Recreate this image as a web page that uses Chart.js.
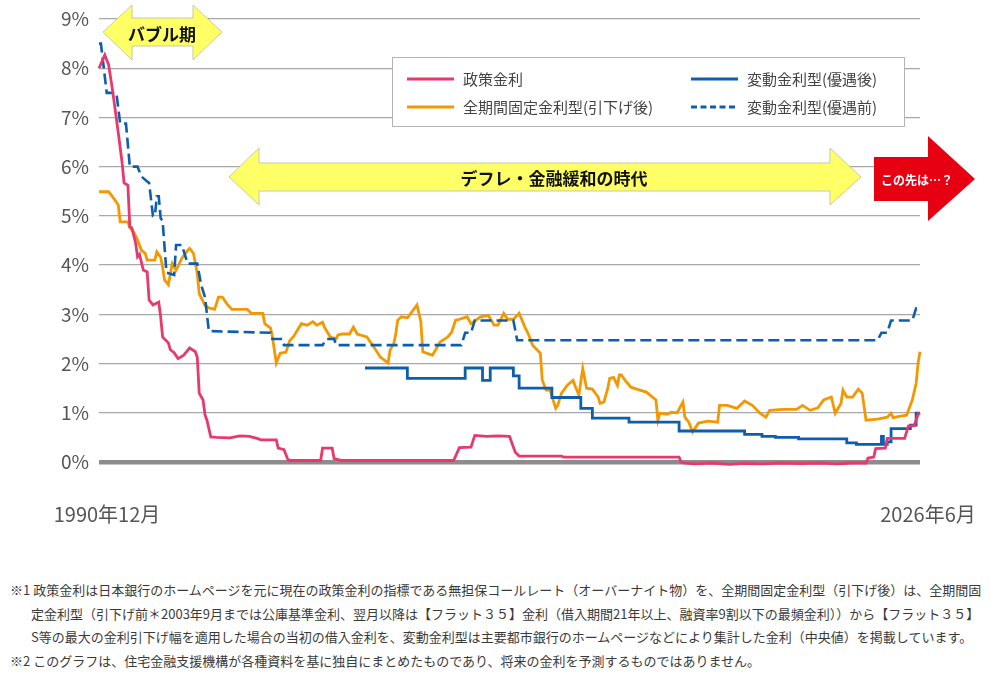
<!DOCTYPE html>
<html lang="ja">
<head>
<meta charset="utf-8">
<script src="https://cdn.jsdelivr.net/npm/chart.js@4.4.1/dist/chart.umd.min.js"></script>
<style>
html,body{margin:0;padding:0;background:#fff;}
body{width:991px;height:673px;position:relative;overflow:hidden;font-family:"Noto Sans CJK JP","Noto Sans",sans-serif;}
#c{position:absolute;left:0;top:0;}
#legend{position:absolute;left:392px;top:57px;width:511px;height:68px;border:1px solid #b4b4b4;background:#fff;font-size:15px;color:#444;}
.item{position:absolute;height:20px;line-height:20px;white-space:nowrap;}
.item svg{position:absolute;left:0;top:8px;}
.item span{position:absolute;left:56px;top:0;}
#arrows{position:absolute;left:0;top:0;pointer-events:none;}
.notes div{position:absolute;white-space:nowrap;font-size:13px;line-height:16px;color:#3a3a3a;}
</style>
</head>
<body>
<canvas id="c" width="991" height="540"></canvas>

<svg id="arrows" width="991" height="240" xmlns="http://www.w3.org/2000/svg">
  <polygon points="103,32 132,5 132,18 193,18 193,5 222,32 193,60 193,46 132,46 132,60"
           fill="#ffff66" stroke="#c9c9a6" stroke-width="1"/>
  <text x="162" y="33" font-size="17" font-weight="bold" fill="#111" text-anchor="middle" dominant-baseline="central"
        font-family="Noto Sans CJK JP, sans-serif">バブル期</text>
  <polygon points="229,177 259,148 259,163 830,163 830,148 861,177 830,205 830,191 259,191 259,205"
           fill="#ffff66" stroke="#c9c9a6" stroke-width="1"/>
  <text x="554" y="177" font-size="17" font-weight="bold" fill="#111" text-anchor="middle" dominant-baseline="central"
        font-family="Noto Sans CJK JP, sans-serif">デフレ・金融緩和の時代</text>
  <polygon points="874,157 928,157 928,136 975,179 928,221 928,201 874,201" fill="#e60012"/>
  <text x="917" y="179" font-size="12" font-weight="bold" fill="#fff" text-anchor="middle" dominant-baseline="central"
        font-family="Noto Sans CJK JP, sans-serif">この先は…？</text>
</svg>

<div id="legend">
  <div class="item" style="left:14px;top:11px;"><svg width="48" height="4"><line x1="0" y1="2" x2="47" y2="2" stroke="#e8396e" stroke-width="3"/></svg><span>政策金利</span></div>
  <div class="item" style="left:14px;top:39px;"><svg width="48" height="4"><line x1="0" y1="2" x2="47" y2="2" stroke="#f39800" stroke-width="3"/></svg><span>全期間固定金利型(引下げ後)</span></div>
  <div class="item" style="left:298px;top:11px;"><svg width="48" height="4"><line x1="0" y1="2" x2="47" y2="2" stroke="#0d5fae" stroke-width="3"/></svg><span>変動金利型(優遇後)</span></div>
  <div class="item" style="left:298px;top:39px;"><svg width="48" height="4"><line x1="0" y1="2" x2="47" y2="2" stroke="#0d5fae" stroke-width="3" stroke-dasharray="6,3.5"/></svg><span>変動金利型(優遇前)</span></div>
</div>

<div class="notes">
  <div style="left:10px;top:582px;">※1 政策金利は日本銀行のホームページを元に現在の政策金利の指標である無担保コールレート（オーバーナイト物）を、全期間固定金利型（引下げ後）は、全期間固</div>
  <div style="left:31px;top:606px;">定金利型（引下げ前＊2003年9月までは公庫基準金利、翌月以降は【フラット３５】金利（借入期間21年以上、融資率9割以下の最頻金利））から【フラット３５】</div>
  <div style="left:31px;top:629px;">S等の最大の金利引下げ幅を適用した場合の当初の借入金利を、変動金利型は主要都市銀行のホームページなどにより集計した金利（中央値）を掲載しています。</div>
  <div style="left:10px;top:653px;">※2 このグラフは、住宅金融支援機構が各種資料を基に独自にまとめたものであり、将来の金利を予測するものではありません。</div>
</div>

<script>
// ---- data ----
const xStart = '1990-12';
const xEnd = '2026-06';
const xTickLabels = ['1990年12月', '2026年6月'];
const yTickMax = 9;

const policyDates = ['1990-12','1991-03','1991-05','1991-07','1991-10','1991-12','1992-01','1992-03','1992-04','1992-05','1992-07','1992-08','1992-09','1992-11','1993-01','1993-02','1993-04','1993-07','1993-08','1993-09','1993-12','1994-01','1994-03','1994-05','1994-08','1994-11','1995-02','1995-03','1995-04','1995-06','1995-07','1995-08','1995-10','1996-01','1996-08','1997-01','1997-06','1997-10','1997-12','1998-08','1998-09','1998-12','1999-02','1999-03','2000-07','2000-08','2001-01','2001-02','2001-06','2006-04','2006-07','2007-01','2007-03','2007-09','2008-03','2008-09','2008-12','2009-02','2010-12','2011-01','2016-01','2016-02','2016-03','2016-09','2017-06','2018-03','2018-11','2019-08','2020-06','2021-04','2022-02','2022-11','2023-07','2024-02','2024-03','2024-06','2024-07','2024-12','2025-01','2025-10','2025-12','2026-03','2026-05','2026-06'];
const policyValues = [8.0,8.27,8.07,7.56,6.69,6.08,5.67,5.62,4.78,4.76,4.45,4.17,4.22,3.9,3.86,3.29,3.19,3.25,2.95,2.54,2.42,2.28,2.22,2.1,2.17,2.32,2.24,2.13,1.4,1.26,0.96,0.85,0.51,0.5,0.49,0.53,0.52,0.48,0.45,0.45,0.28,0.25,0.05,0.03,0.03,0.28,0.28,0.07,0.03,0.03,0.29,0.3,0.54,0.52,0.53,0.52,0.2,0.12,0.12,0.1,0.1,0.0,-0.02,-0.04,-0.02,-0.05,-0.03,-0.04,-0.02,-0.03,-0.02,-0.04,-0.02,-0.02,0.08,0.1,0.27,0.28,0.48,0.48,0.73,0.74,0.97,1.0];

const fixedDates = ['1990-12','1991-05','1991-07','1991-10','1991-11','1992-03','1992-04','1992-06','1992-08','1992-10','1992-12','1993-01','1993-05','1993-06','1993-08','1993-09','1993-10','1993-12','1994-02','1994-04','1994-07','1994-10','1994-11','1995-01','1995-03','1995-04','1995-07','1995-09','1995-12','1996-02','1996-04','1996-07','1996-09','1997-05','1997-07','1998-01','1998-02','1998-05','1998-06','1998-08','1998-10','1999-01','1999-03','1999-05','1999-07','1999-09','1999-12','2000-03','2000-05','2000-08','2000-09','2000-12','2001-03','2001-04','2001-06','2001-10','2001-12','2002-02','2002-07','2002-10','2003-02','2003-06','2003-07','2003-09','2003-10','2003-11','2004-01','2004-04','2004-05','2004-09','2004-11','2004-12','2005-05','2005-07','2005-09','2006-01','2006-03','2006-05','2006-07','2006-11','2007-01','2007-06','2007-10','2008-01','2008-03','2008-06','2008-08','2008-11','2009-02','2009-05','2009-07','2009-09','2010-01','2010-02','2010-04','2010-06','2010-09','2010-10','2010-12','2011-03','2011-06','2011-07','2011-09','2011-11','2012-01','2012-04','2012-07','2012-08','2012-10','2012-12','2013-01','2013-03','2013-05','2013-06','2013-07','2013-09','2013-12','2014-03','2014-08','2015-01','2015-02','2015-03','2015-07','2015-09','2015-12','2016-03','2016-04','2016-06','2016-08','2016-11','2017-04','2017-09','2017-10','2018-02','2018-07','2018-11','2019-03','2019-07','2019-10','2019-12','2020-07','2021-02','2021-05','2021-09','2022-01','2022-04','2022-08','2022-10','2023-01','2023-02','2023-04','2023-07','2023-10','2023-12','2024-02','2024-08','2025-01','2025-03','2025-04','2025-08','2025-11','2026-02','2026-04','2026-05','2026-06'];
const fixedValues = [5.49,5.49,5.39,5.22,4.88,4.88,4.76,4.67,4.51,4.3,4.24,4.1,4.1,4.27,4.16,3.96,3.7,3.6,4.03,3.9,4.14,4.3,4.34,4.24,3.83,3.42,3.18,3.13,3.1,3.35,3.35,3.18,3.1,3.1,3.02,3.02,2.81,2.72,2.54,2.01,2.21,2.23,2.47,2.55,2.68,2.81,2.78,2.85,2.78,2.84,2.74,2.54,2.5,2.58,2.6,2.6,2.74,2.6,2.54,2.37,2.13,2.01,2.27,2.41,2.61,2.88,2.95,2.93,2.98,3.19,2.85,2.24,2.17,2.3,2.44,2.54,2.64,2.88,2.9,2.95,2.81,2.95,2.98,2.78,2.78,3.02,2.9,2.9,3.02,2.74,2.58,2.37,2.21,1.66,1.46,1.46,1.09,1.15,1.4,1.56,1.66,1.55,1.36,1.9,1.5,1.48,1.32,1.19,1.22,1.5,1.7,1.72,1.56,1.77,1.77,1.66,1.52,1.48,1.42,1.26,0.85,0.99,0.97,1.01,1.0,1.22,0.91,0.81,0.61,0.79,0.83,0.81,1.15,1.15,1.09,1.24,1.15,0.99,0.91,1.05,1.07,1.07,1.15,1.05,1.1,1.26,1.32,0.99,1.19,1.46,1.32,1.32,1.48,1.4,0.85,0.87,0.91,0.99,0.9,0.93,0.95,1.26,1.6,2.01,2.24];

const variableDates = ['2002-06','2004-04','2006-10','2007-07','2007-11','2008-11','2009-02','2010-07','2011-10','2012-04','2013-11','2016-01','2018-11','2019-08','2020-03','2021-03','2023-04','2023-09','2024-10','2024-11','2025-01','2025-03','2026-01','2026-04','2026-06'];
const variableValues = [1.91,1.7,1.91,1.66,1.91,1.75,1.5,1.31,1.09,0.89,0.81,0.63,0.56,0.52,0.5,0.47,0.39,0.36,0.52,0.36,0.41,0.68,0.75,0.99,0.99];

const primeDates = ['1990-12','1991-01','1991-04','1991-09','1991-11','1992-02','1992-04','1992-08','1992-10','1993-01','1993-02','1993-04','1993-05','1993-06','1993-07','1993-08','1993-09','1993-11','1994-03','1994-04','1994-07','1994-10','1995-03','1995-05','1995-07','1995-09','1998-05','1998-06','1998-11','1998-12','2000-08','2000-10','2001-02','2001-03','2006-08','2006-10','2007-01','2007-03','2008-11','2009-01','2024-08','2024-10','2025-01','2025-03','2026-02','2026-04','2026-06'];
const primeValues = [8.5,8.5,7.5,7.5,6.875,6.875,6.0,6.0,5.8,5.7,5.67,5.0,5.0,5.4,5.4,4.95,4.9,3.85,3.8,4.41,4.41,4.03,4.03,3.6,3.35,2.66,2.625,2.5,2.5,2.375,2.375,2.5,2.5,2.375,2.375,2.625,2.625,2.875,2.875,2.475,2.475,2.625,2.625,2.875,2.875,3.125,3.125];

// ---- helpers ----
function monthIndex(s){ const p = s.split('-').map(Number); return (p[0]-1990)*12 + (p[1]-12); }
function pts(dates, vals){ return dates.map((d,i)=>({x: monthIndex(d), y: vals[i]})); }

const FONT = '"Noto Sans CJK JP", "Noto Sans", sans-serif';
Chart.defaults.font.family = FONT;

const xMin = monthIndex(xStart), xMax = monthIndex(xEnd);

new Chart(document.getElementById('c'), {
  type: 'line',
  data: {
    datasets: [
      { label:'政策金利', data: pts(policyDates, policyValues), borderColor:'#e8396e', borderWidth:2.8, pointRadius:0, tension:0, clip:false, order:0 },
      { label:'変動金利型(優遇後)', data: pts(variableDates, variableValues), borderColor:'#0d5fae', borderWidth:2.8, pointRadius:0, stepped:true, clip:false, order:1 },
      { label:'変動金利型(優遇前)', data: pts(primeDates, primeValues), borderColor:'#0d5fae', borderWidth:2.6, borderDash:[11,5], pointRadius:0, tension:0, clip:false, order:2 },
      { label:'全期間固定金利型(引下げ後)', data: pts(fixedDates, fixedValues), borderColor:'#f39800', borderWidth:2.8, pointRadius:0, tension:0, clip:false, order:3 }
    ]
  },
  options: {
    responsive:false,
    animation:false,
    layout:{ padding:{ top:19, right:71, bottom:0, left:0 } },
    plugins:{ legend:{display:false}, tooltip:{enabled:false} },
    scales:{
      x:{
        type:'linear', min:xMin, max:xMax,
        grid:{ display:false, drawTicks:false },
        border:{ display:false },
        afterBuildTicks: s => { s.ticks = [{value:xMin},{value:xMax}]; },
        ticks:{ autoSkip:false, maxRotation:0, padding:40, labelOffset:8, color:'#555', font:{size:20},
                callback:(v,i)=> xTickLabels[i] },
        afterFit: s => { s.height = 78; s.paddingLeft = 0; s.paddingRight = 0; }
      },
      y:{
        min:0, max:yTickMax,
        grid:{ drawTicks:false,
               color: c => (c.tick && c.tick.value === 0) ? '#8c8c8c' : '#a8a8a8',
               lineWidth: c => (c.tick && c.tick.value === 0) ? 4.5 : 1.3 },
        border:{ display:false },
        ticks:{ stepSize:1, padding:10, color:'#555', font:{size:19}, callback: v => v + '%' },
        afterFit: s => { s.width = 99; s.paddingTop = 0; s.paddingBottom = 0; }
      }
    }
  }
});
</script>
</body>
</html>
